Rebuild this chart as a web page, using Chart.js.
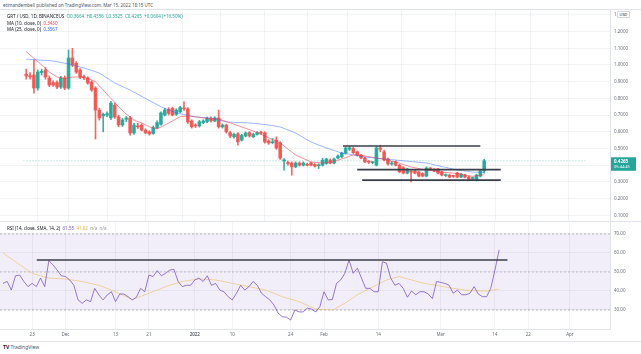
<!DOCTYPE html>
<html lang="en">
<head>
<meta charset="UTF-8">
<title>GRT / USD, 1D</title>
<script src="https://cdn.jsdelivr.net/npm/chart.js"></script>
<style>
  body { margin: 0; width: 641px; height: 354px; background: #fff; position: relative; overflow: hidden; font-family: "Noto Sans", sans-serif; }
  .txt { position: absolute; white-space: nowrap; font-size: 4.5px; line-height: 6px; color: #131722; }
  #frame { position: absolute; left: 0; top: 9px; width: 641px; height: 333px; border-top: 1px solid #e0e3eb; border-bottom: 1px solid #e0e3eb; box-sizing: border-box; }
  #priceChart { position: absolute; left: 0; top: 10px; }
  #rsiChart { position: absolute; left: 0; top: 222px; }
  #sep { position: absolute; left: 0; top: 221px; width: 641px; height: 1px; background: #e0e3eb; }
  #usd { position: absolute; left: 617px; top: 11px; font-size: 4px; line-height: 5px; padding: 0 1.5px; border: 1px solid #d1d4dc; border-radius: 1px; background: #fff; color: #131722; }
</style>
</head>
<body>

<div id="frame"></div>
<canvas id="priceChart" width="641" height="211"></canvas>
<div id="sep"></div>
<canvas id="rsiChart" width="641" height="120"></canvas>

<div class="txt" style="left:3px;top:2px;color:#50535e">etimandembell published on TradingView.com, Mar 15, 2022 18:15 UTC</div>
<div class="txt" style="left:7px;top:13px">GRT / USD, 1D, BINANCEUS&nbsp;&nbsp;<span style="color:#26a69a">O0.3664&nbsp; H0.4356&nbsp; L0.3525&nbsp; C0.4265&nbsp; +0.0604 (+16.50%)</span></div>
<div class="txt" style="left:7px;top:20px">MA (10, close, 0)&nbsp; <span style="color:#f23645">0.3430</span></div>
<div class="txt" style="left:7px;top:26px">MA (25, close, 0)&nbsp; <span style="color:#2962ff">0.3567</span></div>
<div class="txt" style="left:7px;top:225px">RSI (14, close, SMA, 14, 2)&nbsp; <span style="color:#7e57c2">61.55</span>&nbsp; <span style="color:#e0b040">41.02</span>&nbsp; <span style="color:#9598a1">n/a&nbsp; n/a</span></div>
<div id="usd">USD</div>
<div class="txt" style="left:3px;top:344px;font-size:5px;color:#50535e"><b style="color:#131722">TV</b> TradingView</div>

<script>
// daily candles, index 0 = 16 Nov 2021, last = 15 Mar 2022
const open = [0.945, 0.935, 0.940, 0.862, 0.955, 0.970, 0.922, 0.895, 0.895, 0.868,
  0.922, 0.862, 1.042, 1.010, 0.970, 0.928, 0.922, 0.898, 0.862, 0.730,
  0.695, 0.700, 0.683, 0.760, 0.689, 0.641, 0.675, 0.683, 0.593, 0.635,
  0.640, 0.610, 0.600, 0.590, 0.625, 0.645, 0.700, 0.735, 0.740, 0.705,
  0.720, 0.740, 0.737, 0.665, 0.640, 0.635, 0.655, 0.660, 0.680, 0.665,
  0.683, 0.630, 0.640, 0.595, 0.570, 0.588, 0.550, 0.575, 0.595, 0.570,
  0.585, 0.595, 0.593, 0.545, 0.535, 0.551, 0.533, 0.425, 0.415, 0.413,
  0.390, 0.413, 0.400, 0.405, 0.413, 0.405, 0.397, 0.400, 0.410, 0.430,
  0.413, 0.443, 0.450, 0.473, 0.495, 0.500, 0.480, 0.460, 0.443, 0.420,
  0.415, 0.400, 0.503, 0.480, 0.437, 0.407, 0.420, 0.400, 0.385, 0.353,
  0.360, 0.365, 0.359, 0.350, 0.335, 0.378, 0.373, 0.377, 0.359, 0.338,
  0.341, 0.335, 0.353, 0.329, 0.341, 0.329, 0.320, 0.311, 0.335, 0.3664];
const high = [0.975, 0.955, 1.030, 0.970, 0.975, 0.985, 0.935, 0.905, 0.905, 0.932,
  0.935, 1.090, 1.100, 1.020, 0.978, 0.940, 0.930, 0.905, 0.870, 0.742,
  0.712, 0.720, 0.782, 0.772, 0.700, 0.680, 0.692, 0.692, 0.650, 0.650,
  0.648, 0.618, 0.606, 0.635, 0.665, 0.720, 0.740, 0.745, 0.748, 0.738,
  0.752, 0.780, 0.745, 0.672, 0.648, 0.668, 0.672, 0.688, 0.690, 0.690,
  0.730, 0.648, 0.646, 0.602, 0.592, 0.595, 0.585, 0.600, 0.602, 0.592,
  0.602, 0.605, 0.600, 0.552, 0.560, 0.570, 0.540, 0.440, 0.425, 0.420,
  0.420, 0.420, 0.420, 0.412, 0.418, 0.410, 0.408, 0.442, 0.442, 0.438,
  0.442, 0.462, 0.478, 0.510, 0.512, 0.508, 0.485, 0.465, 0.448, 0.428,
  0.422, 0.512, 0.520, 0.490, 0.442, 0.422, 0.426, 0.405, 0.392, 0.382,
  0.368, 0.370, 0.364, 0.355, 0.390, 0.386, 0.380, 0.382, 0.364, 0.348,
  0.346, 0.340, 0.358, 0.352, 0.346, 0.334, 0.328, 0.346, 0.370, 0.4356];
const low = [0.915, 0.915, 0.832, 0.850, 0.940, 0.915, 0.870, 0.872, 0.858, 0.860,
  0.852, 0.855, 0.990, 0.950, 0.918, 0.912, 0.885, 0.842, 0.557, 0.670,
  0.600, 0.690, 0.672, 0.680, 0.630, 0.632, 0.660, 0.580, 0.585, 0.620,
  0.605, 0.588, 0.580, 0.585, 0.618, 0.640, 0.695, 0.700, 0.695, 0.698,
  0.715, 0.728, 0.650, 0.622, 0.625, 0.628, 0.648, 0.655, 0.658, 0.660,
  0.622, 0.622, 0.592, 0.565, 0.562, 0.520, 0.545, 0.570, 0.568, 0.565,
  0.580, 0.585, 0.532, 0.525, 0.528, 0.495, 0.435, 0.370, 0.400, 0.340,
  0.385, 0.395, 0.395, 0.395, 0.395, 0.388, 0.380, 0.395, 0.405, 0.408,
  0.408, 0.438, 0.445, 0.468, 0.488, 0.470, 0.455, 0.438, 0.415, 0.410,
  0.408, 0.395, 0.480, 0.425, 0.400, 0.400, 0.395, 0.355, 0.348, 0.348,
  0.300, 0.348, 0.330, 0.330, 0.330, 0.370, 0.362, 0.348, 0.336, 0.332,
  0.324, 0.326, 0.324, 0.325, 0.324, 0.312, 0.314, 0.306, 0.330, 0.3525];
const close = [0.935, 0.930, 0.862, 0.958, 0.962, 0.928, 0.880, 0.880, 0.868, 0.922,
  0.862, 1.042, 1.000, 0.958, 0.928, 0.925, 0.892, 0.850, 0.730, 0.683,
  0.705, 0.708, 0.772, 0.689, 0.641, 0.671, 0.683, 0.593, 0.641, 0.630,
  0.610, 0.593, 0.587, 0.625, 0.655, 0.713, 0.730, 0.710, 0.700, 0.730,
  0.745, 0.737, 0.659, 0.630, 0.635, 0.660, 0.665, 0.680, 0.665, 0.683,
  0.630, 0.640, 0.600, 0.575, 0.585, 0.540, 0.578, 0.593, 0.575, 0.585,
  0.595, 0.592, 0.539, 0.533, 0.540, 0.503, 0.443, 0.432, 0.410, 0.390,
  0.413, 0.400, 0.413, 0.400, 0.400, 0.395, 0.402, 0.430, 0.437, 0.413,
  0.437, 0.455, 0.473, 0.503, 0.505, 0.475, 0.460, 0.443, 0.420, 0.418,
  0.417, 0.503, 0.495, 0.431, 0.407, 0.413, 0.400, 0.360, 0.353, 0.377,
  0.358, 0.353, 0.335, 0.335, 0.383, 0.377, 0.370, 0.353, 0.341, 0.343,
  0.329, 0.333, 0.329, 0.347, 0.329, 0.317, 0.323, 0.341, 0.3661, 0.4265];

// moving averages (candle index, price)
const ma10Idx = [0, 2, 4, 6, 8, 10, 12, 14, 16, 18, 20, 22, 24, 26, 28, 30, 32, 34, 36, 38, 40, 42, 44, 46, 48, 50, 53, 56, 59, 62, 66, 70, 74, 77, 80, 83, 85, 88, 92, 96, 100, 104, 108, 112, 116, 119];
const ma10Val = [1.08, 1.04, 1.0, 0.958, 0.928, 0.92, 0.928, 0.928, 0.92, 0.90, 0.85, 0.80, 0.75, 0.706, 0.67, 0.653, 0.63, 0.617, 0.64, 0.665, 0.69, 0.695, 0.69, 0.683, 0.677, 0.677, 0.653, 0.629, 0.605, 0.575, 0.533, 0.461, 0.419, 0.413, 0.422, 0.445, 0.463, 0.455, 0.44, 0.419, 0.389, 0.371, 0.359, 0.35, 0.333, 0.343];
const ma25Idx = [0, 7, 11, 15, 19, 23, 27, 31, 35, 39, 44, 48, 52, 58, 63, 66, 70, 74, 78, 82, 85, 88, 96, 104, 112, 116, 119];
const ma25Val = [1.035, 1.024, 1.006, 0.982, 0.952, 0.892, 0.85, 0.80, 0.75, 0.713, 0.689, 0.683, 0.659, 0.653, 0.641, 0.629, 0.593, 0.539, 0.503, 0.473, 0.461, 0.449, 0.431, 0.413, 0.371, 0.359, 0.357];

// hand drawn levels (price, from index, to index)
const levelPrice = [0.515, 0.374, 0.311];
const levelFrom = [82.3, 86, 87.3];
const levelTo = [118, 123.3, 123.3];

const rsi = [44, 45, 40.5, 48, 48.4, 45, 42.3, 44, 42.3, 46.8,
  42.3, 56, 53.7, 51, 48, 47.6, 45.8, 43, 35.3, 33.5,
  35.3, 34.4, 41.4, 37.9, 35.3, 37.9, 39.6, 34.4, 38.4, 38.4,
  37, 35.3, 36.7, 41.4, 39.6, 48.4, 47.6, 50.7, 48, 49.3,
  51, 51.4, 45, 42.3, 43, 43, 45.8, 46.8, 45, 48,
  43, 44, 40.5, 39.6, 37, 35.3, 38.8, 43, 40.5, 42.3,
  45, 43, 38.8, 37, 35.3, 32.6, 28.3, 26.5, 26.2, 24.7,
  30, 29, 29, 31, 30.5, 29, 31.7, 39.6, 35.3, 35.5,
  44, 45.8, 49.3, 56.3, 49.3, 52, 46.8, 41.4, 41.4, 39.6,
  39.6, 55.4, 54.6, 46.8, 43, 44, 41.4, 36.7, 40, 38,
  39.6, 39.6, 38.4, 36, 45, 44.5, 44, 43, 38.8, 40.5,
  38, 38, 38.8, 42.3, 38.4, 37, 37, 41.4, 51, 61.55];
const rsiMaIdx = [0, 3, 7, 11, 15, 19, 23, 27, 31, 35, 39, 43, 47, 51, 55, 59, 63, 67, 71, 75, 79, 82, 85, 88, 92, 95, 98, 101, 104, 108, 112, 116, 119];
const rsiMaVal = [60, 55.4, 49.3, 46.8, 46.3, 45, 43, 39.6, 35.5, 38.8, 42.3, 45, 46.3, 45.8, 44, 42.3, 40.5, 37, 34.4, 30.5, 30, 33.5, 38, 41.4, 45.8, 47.6, 45.8, 44, 43, 41.4, 40.2, 40, 41.02];
const rsiLevel = 56.3, rsiLevelFrom = 8.1, rsiLevelTo = 121;
const rsiBands = [70, 50, 30];

const tickIdx = [7, 15, 27, 35, 46, 55, 69, 77, 90, 105, 118, 126, 136];
const tickText = ['23', 'Dec', '13', '21', '2022', '10', '24', 'Feb', '14', 'Mar', '14', '22', 'Apr'];
const priceTicks = [0.1, 0.2, 0.3, 0.4, 0.5, 0.6, 0.7, 0.8, 0.9, 1.0, 1.1, 1.2, 1.3];
const rsiTicks = [30, 40, 50, 60, 70];
const countdown = '05:44:45';

const xMin = -0.72, xMax = 145.6;
const up = 'rgba(38,166,154,0.9)', down = 'rgba(239,83,80,0.88)';
const gridColor = 'rgba(42,46,57,0.06)';
const axisColor = '#6a6d78';
const family = '"Noto Sans", sans-serif';

function xScale(showLabels) {
  return {
    type: 'linear', min: xMin, max: xMax,
    afterBuildTicks: s => { s.ticks = tickIdx.map(v => ({ value: v })); },
    afterFit: s => { s.height = showLabels ? 13 : 0; s.paddingLeft = 0; s.paddingRight = 0; },
    grid: { color: gridColor, drawTicks: false },
    border: { display: showLabels, color: '#e0e3eb' },
    ticks: {
      display: showLabels, autoSkip: false, maxRotation: 0, padding: 3, color: axisColor,
      font: ctx => ({ size: 4.5, family, weight: tickText[ctx.index] === '2022' ? 'bold' : 'normal' }),
      callback: (v, i) => tickText[i]
    }
  };
}

function yScale(min, max, ticks, digits) {
  return {
    position: 'right', min, max,
    afterBuildTicks: s => { s.ticks = ticks.map(v => ({ value: v })); },
    afterFit: s => { s.width = 31; s.paddingTop = 0; s.paddingBottom = 0; },
    grid: { color: gridColor, drawTicks: false },
    border: { color: '#e0e3eb' },
    ticks: { padding: 4, color: axisColor, font: { size: 4.5, family }, callback: v => v.toFixed(digits) }
  };
}

const colors = open.map((o, i) => close[i] >= o ? up : down);
const last = close[close.length - 1];

const lastPrice = {
  id: 'lastPrice',
  afterDraw(chart) {
    const ctx = chart.ctx;
    const y = chart.scales.y.getPixelForValue(last);
    const left = chart.chartArea.right + 1;
    ctx.save();
    ctx.fillStyle = '#26a69a';
    ctx.fillRect(left, y - 3.5, 25, 13.5);
    ctx.fillStyle = '#fff';
    ctx.textBaseline = 'middle';
    ctx.font = 'bold 4.5px ' + family;
    ctx.fillText(last.toFixed(4), left + 3, y + 1);
    ctx.font = '4px ' + family;
    ctx.fillText(countdown, left + 3, y + 6.5);
    ctx.restore();
  }
};

const line = (data, color, width, order, dash) => ({
  type: 'line', data, borderColor: color, borderWidth: width, borderDash: dash || [],
  pointRadius: 0, tension: 0, fill: false, order
});

new Chart(document.getElementById('priceChart'), {
  type: 'bar',
  data: {
    datasets: [
      ...levelPrice.map((p, k) => line([{ x: levelFrom[k], y: p }, { x: levelTo[k], y: p }], '#3a3e49', 1.7, 0)),
      line(ma10Idx.map((x, k) => ({ x, y: ma10Val[k] })), 'rgba(242,54,69,0.55)', 1, 1),
      line(ma25Idx.map((x, k) => ({ x, y: ma25Val[k] })), 'rgba(41,98,255,0.45)', 1, 1),
      {
        data: open.map((o, i) => ({ x: i, y: [o, close[i]] })),
        backgroundColor: colors, borderWidth: 0, barThickness: 3, minBarLength: 1, grouped: false, order: 2
      },
      {
        data: low.map((l, i) => ({ x: i, y: [l, high[i]] })),
        backgroundColor: colors, borderWidth: 0, barThickness: 1, grouped: false, order: 3
      },
      line([{ x: xMin, y: last }, { x: xMax, y: last }], 'rgba(38,166,154,0.45)', 1, 4, [1, 2])
    ]
  },
  options: {
    responsive: false, animation: false,
    layout: { padding: 0 },
    plugins: { legend: { display: false }, tooltip: { enabled: false } },
    scales: { x: xScale(false), y: yScale(0.0659, 1.3293, priceTicks, 4) }
  },
  plugins: [lastPrice]
});

const flat = (v, a, b) => [{ x: a, y: v }, { x: b, y: v }];
new Chart(document.getElementById('rsiChart'), {
  type: 'line',
  data: {
    datasets: [
      line(flat(rsiLevel, rsiLevelFrom, rsiLevelTo), '#3a3e49', 1.7, 0),
      line(rsi.map((v, i) => ({ x: i, y: v })), 'rgba(126,87,194,0.8)', 1, 1),
      line(rsiMaIdx.map((x, k) => ({ x, y: rsiMaVal[k] })), 'rgba(235,190,100,0.6)', 1, 2),
      line(flat(rsiBands[0], xMin, xMax), 'rgba(120,123,134,0.5)', 1, 3, [2, 2]),
      Object.assign(line(flat(rsiBands[2], xMin, xMax), 'rgba(120,123,134,0.5)', 1, 3, [2, 2]),
        { fill: '-1', backgroundColor: 'rgba(126,87,194,0.1)' }),
      line(flat(rsiBands[1], xMin, xMax), 'rgba(120,123,134,0.4)', 1, 3, [2, 2])
    ]
  },
  options: {
    responsive: false, animation: false,
    layout: { padding: 0 },
    plugins: { legend: { display: false }, tooltip: { enabled: false } },
    scales: { x: xScale(true), y: yScale(20, 76.3, rsiTicks, 2) }
  }
});
</script>
</body>
</html>
